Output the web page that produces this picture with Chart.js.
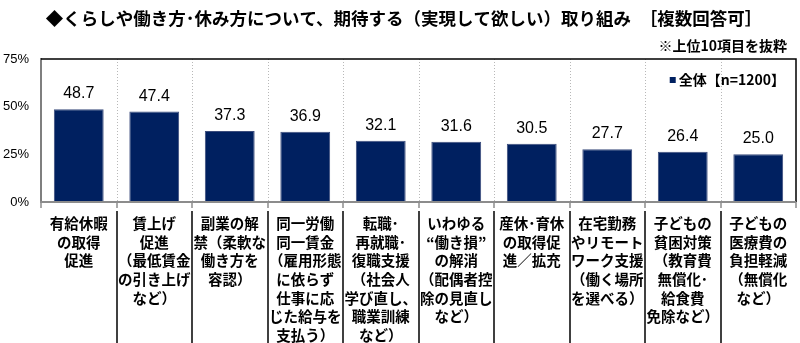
<!DOCTYPE html>
<html lang="ja">
<head>
<meta charset="utf-8">
<title>くらしや働き方・休み方について、期待する取り組み</title>
<script src="https://cdn.jsdelivr.net/npm/chart.js@4.4.1/dist/chart.umd.min.js"></script>
<style>
  html, body { margin: 0; padding: 0; background: #fff; }
  #wrap { width: 800px; height: 343px; position: relative; }
</style>
</head>
<body>
<div id="wrap"><canvas id="chart" width="800" height="343"></canvas></div>
<script>
// Survey items (multi-line labels as printed under each bar)
const categories = [
  ['有給休暇', 'の取得', '促進'],
  ['賃上げ', '促進', '（最低賃金', 'の引き上げ', 'など）'],
  ['副業の解', '禁（柔軟な', '働き方を', '容認）'],
  ['同一労働', '同一賃金', '（雇用形態', 'に依らず', '仕事に応', 'じた給与を', '支払う）'],
  ['転職･', '再就職･', '復職支援', '（社会人', '学び直し、', '職業訓練', 'など）'],
  ['いわゆる', '“働き損”', 'の解消', '（配偶者控', '除の見直し', 'など）'],
  ['産休･育休', 'の取得促', '進／拡充'],
  ['在宅勤務', 'やリモート', 'ワーク支援', '（働く場所', 'を選べる）'],
  ['子どもの', '貧困対策', '（教育費', '無償化･', '給食費', '免除など）'],
  ['子どもの', '医療費の', '負担軽減', '（無償化', 'など）']
];

// Share of respondents (%)
const totalValues = [48.7, 47.4, 37.3, 36.9, 32.1, 31.6, 30.5, 27.7, 26.4, 25.0];

const seriesLabel = '全体【n=1200】';
const yTicks = [0, 25, 50, 75];

const titleText = '◆くらしや働き方･休み方について、期待する（実現して欲しい）取り組み　［複数回答可］';
const noteText = '※上位10項目を抜粋';

const JP = '"Noto Sans CJK JP", "Noto Sans", sans-serif';
const LAT = '"Liberation Sans", Arial, sans-serif';
const NAVY = '#002060';

// Frame, dotted column guides, axis ticks and separators between item labels
const framePlugin = {
  id: 'frame',
  beforeDatasetsDraw(chart) {
    const { ctx, chartArea: a, scales: { x } } = chart;
    const n = categories.length;
    const half = (x.getPixelForValue(1) - x.getPixelForValue(0)) / 2;
    ctx.save();
    // dotted guides between columns
    ctx.strokeStyle = '#b8b8b8';
    ctx.lineWidth = 1;
    ctx.setLineDash([1, 2]);
    for (let i = 0; i < n - 1; i++) {
      const px = Math.round(x.getPixelForValue(i) + half) + 0.5;
      ctx.beginPath();
      ctx.moveTo(px, a.top);
      ctx.lineTo(px, a.bottom);
      ctx.stroke();
    }
    ctx.restore();
  },
  afterDraw(chart) {
    const { ctx, chartArea: a, scales: { x } } = chart;
    const n = categories.length;
    const half = (x.getPixelForValue(1) - x.getPixelForValue(0)) / 2;
    ctx.save();
    // top and right frame lines
    ctx.strokeStyle = '#000';
    ctx.lineWidth = 1.5;
    ctx.beginPath();
    ctx.moveTo(a.left, a.top);
    ctx.lineTo(a.right, a.top);
    ctx.lineTo(a.right, a.bottom);
    ctx.stroke();
    // bottom axis with short tick marks
    ctx.strokeStyle = '#8c8c8c';
    ctx.lineWidth = 2;
    ctx.beginPath();
    ctx.moveTo(a.left - 1, a.bottom);
    ctx.lineTo(a.right, a.bottom);
    ctx.stroke();
    ctx.lineWidth = 1.5;
    for (let i = 0; i <= n; i++) {
      const px = Math.round(x.getPixelForValue(0) - half + i * 2 * half);
      ctx.beginPath();
      ctx.moveTo(px, a.bottom);
      ctx.lineTo(px, a.bottom + 6);
      ctx.stroke();
    }
    // solid separators between item labels
    ctx.strokeStyle = '#000';
    ctx.lineWidth = 1.5;
    for (let i = 0; i < n - 1; i++) {
      const px = Math.round(x.getPixelForValue(i) + half);
      ctx.beginPath();
      ctx.moveTo(px, a.bottom + 9);
      ctx.lineTo(px, chart.height);
      ctx.stroke();
    }
    ctx.restore();
  }
};

// Value labels above bars
const valueLabelPlugin = {
  id: 'valueLabels',
  afterDatasetsDraw(chart) {
    const { ctx } = chart;
    const meta = chart.getDatasetMeta(0);
    const data = chart.data.datasets[0].data;
    ctx.save();
    ctx.font = '16px ' + LAT;
    ctx.fillStyle = '#000';
    ctx.textAlign = 'center';
    ctx.textBaseline = 'alphabetic';
    meta.data.forEach((bar, i) => {
      ctx.fillText(data[i].toFixed(1), bar.x, bar.y - 11);
    });
    ctx.restore();
  }
};

// Title, note and in-plot legend
const headerPlugin = {
  id: 'header',
  afterDraw(chart) {
    const { ctx, chartArea: a } = chart;
    const ds = chart.data.datasets[0];
    ctx.save();
    ctx.fillStyle = '#000';
    ctx.textBaseline = 'middle';
    ctx.font = 'bold 17.5px ' + JP;
    ctx.textAlign = 'center';
    ctx.fillText(titleText, 404, 18);
    ctx.font = 'bold 14px ' + JP;
    ctx.textAlign = 'right';
    ctx.fillText(noteText, 787, 46);
    // legend
    ctx.font = 'bold 14px ' + JP;
    ctx.textAlign = 'right';
    const lx = a.right - 11;
    const ly = 80;
    ctx.fillText(ds.label, lx, ly);
    const w = ctx.measureText(ds.label).width;
    ctx.fillStyle = ds.backgroundColor;
    ctx.fillRect(lx - w - 9, ly - 3, 6, 6);
    ctx.restore();
  }
};

new Chart(document.getElementById('chart'), {
  type: 'bar',
  data: {
    labels: categories,
    datasets: [{
      label: seriesLabel,
      data: totalValues,
      backgroundColor: NAVY,
      borderColor: '#3b4c7c',
      borderWidth: 1,
      categoryPercentage: 1,
      barPercentage: 0.66
    }]
  },
  options: {
    responsive: false,
    animation: false,
    devicePixelRatio: 1,
    layout: { padding: { top: 59, right: 4, left: 0, bottom: 0 } },
    plugins: {
      legend: { display: false },
      title: { display: false },
      tooltip: { enabled: false }
    },
    scales: {
      x: {
        offset: true,
        grid: { display: false, drawTicks: false },
        border: { display: false },
        afterFit(scale) { scale.height = 141; },
        ticks: {
          autoSkip: false,
          maxRotation: 0,
          minRotation: 0,
          padding: 12,
          color: '#000',
          font: { family: JP, size: 14.5, weight: 'bold', lineHeight: '18.7px' }
        }
      },
      y: {
        min: 0,
        max: 75,
        afterFit(scale) { scale.width = 41; },
        afterBuildTicks(scale) { scale.ticks = yTicks.map(v => ({ value: v })); },
        grid: { display: false, drawTicks: false },
        border: { display: true, color: '#7f7f7f', width: 2 },
        ticks: {
          padding: 12,
          color: '#000',
          font: { family: LAT, size: 13 },
          callback: v => v + '%'
        }
      }
    }
  },
  plugins: [framePlugin, valueLabelPlugin, headerPlugin]
});
</script>
</body>
</html>
